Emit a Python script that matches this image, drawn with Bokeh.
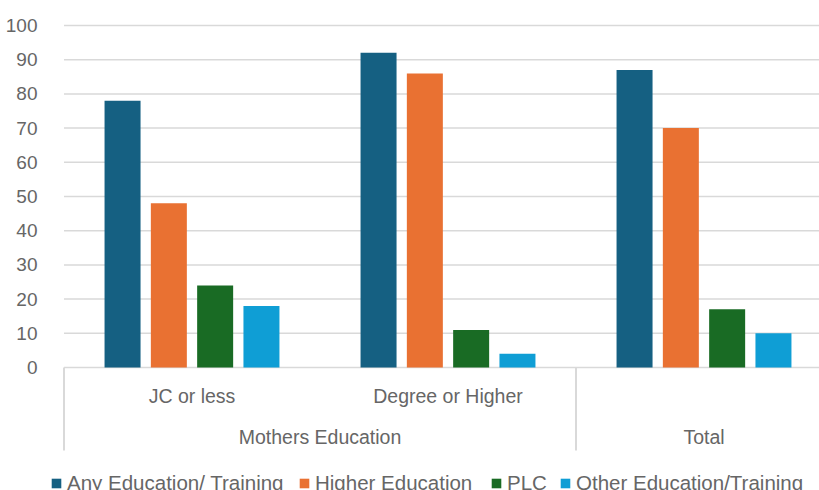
from bokeh.plotting import figure
from bokeh.models import FixedTicker, Range1d, Legend, LegendItem
from bokeh.core.properties import value
from bokeh.embed import file_html
from bokeh.resources import INLINE

# Data
groups = ["JC or less", "Degree or Higher", "Total"]
parent_groups = ["Mothers Education", "Total"]
parent_spans = [(0, 2), (2, 3)]          # group index ranges covered by each parent label
series = ["Any Education/ Training", "Higher Education", "PLC", "Other Education/Training"]
any_edu = [78, 92, 87]
higher_edu = [48, 86, 70]
plc = [24, 11, 17]
other_edu = [18, 4, 10]
y_ticks = list(range(0, 101, 10))

values = [any_edu, higher_edu, plc, other_edu]
colors = ["#156082", "#E97132", "#196B24", "#0F9ED5"]

FONT = "Liberation Sans"
TEXT = "#666666"
GRID = "#d9d9d9"

W, H = 819, 490
frame_left = 48          # frame starts left of the category area so the legend fits inside it
origin_px = 63.5         # pixel where the category area begins
px_per_group = 256.0
px_per_unit = 3.42
zero_y = 367

x_start = -(origin_px - frame_left) / px_per_group
x_end = x_start + (W - frame_left) / px_per_group

p = figure(width=W, height=H, output_backend="svg", toolbar_location=None,
           min_border_left=frame_left, min_border_right=0, min_border_top=0, min_border_bottom=0,
           x_range=Range1d(x_start, x_end),
           y_range=Range1d(-(H - zero_y) / px_per_unit, zero_y / px_per_unit))
p.outline_line_color = None
p.xaxis.visible = False
p.xgrid.visible = False
p.ygrid.visible = False

ticker = FixedTicker(ticks=y_ticks)
p.yaxis.ticker = ticker
p.yaxis.axis_line_color = None
p.yaxis.major_tick_line_color = None
p.yaxis.minor_tick_line_color = None
p.yaxis.major_label_standoff = 5
p.yaxis.major_label_text_font = FONT
p.yaxis.major_label_text_font_size = "19px"
p.yaxis.major_label_text_color = TEXT

# Horizontal gridlines across the category area only
p.segment(x0=[0] * len(y_ticks), x1=[x_end] * len(y_ticks), y0=y_ticks, y1=y_ticks,
          line_color=GRID, line_width=1.5)

# Bars: four series side by side within each group
bar_w = 36 / px_per_group
step = 46.3 / px_per_group
renderers = []
for i, (name, vals, col) in enumerate(zip(series, values, colors)):
    xs = [g + 0.5 + (i - 1.5) * step for g in range(len(groups))]
    r = p.vbar(x=xs, top=vals, width=bar_w, bottom=0, fill_color=col, line_color=None)
    renderers.append(r)

# Category axis: sub-group labels, parent labels and separators
sub_labels = [g if g != "Total" else "" for g in groups]
p.text(x=[g + 0.5 for g in range(len(groups))], y=[-8.2] * len(groups), text=sub_labels,
       text_align="center", text_baseline="middle", text_font=value(FONT),
       text_font_size="19.5px", text_color=TEXT)
p.text(x=[(a + b) / 2 for a, b in parent_spans], y=[-20.2] * len(parent_spans), text=parent_groups,
       text_align="center", text_baseline="middle", text_font=value(FONT),
       text_font_size="19.5px", text_color=TEXT)
sep_x = [a for a, b in parent_spans]
p.segment(x0=sep_x, x1=sep_x, y0=[0] * len(sep_x), y1=[-24.3] * len(sep_x),
          line_color=GRID, line_width=2)

# Legend along the bottom, one entry per series
legend_x = [50, 298, 490, 559]
for name, r, lx in zip(series, renderers, legend_x):
    lg = Legend(items=[LegendItem(label=name, renderers=[r])],
                location=(lx - frame_left, -5), orientation="horizontal",
                glyph_width=12, glyph_height=12, label_standoff=5, label_height=12,
                label_text_font=FONT, label_text_font_size="20.5px", label_text_color=TEXT,
                padding=0, margin=0, spacing=0, border_line_color=None,
                background_fill_alpha=0)
    p.add_layout(lg, "center")

open("out.html", "w").write(file_html(p, INLINE))
